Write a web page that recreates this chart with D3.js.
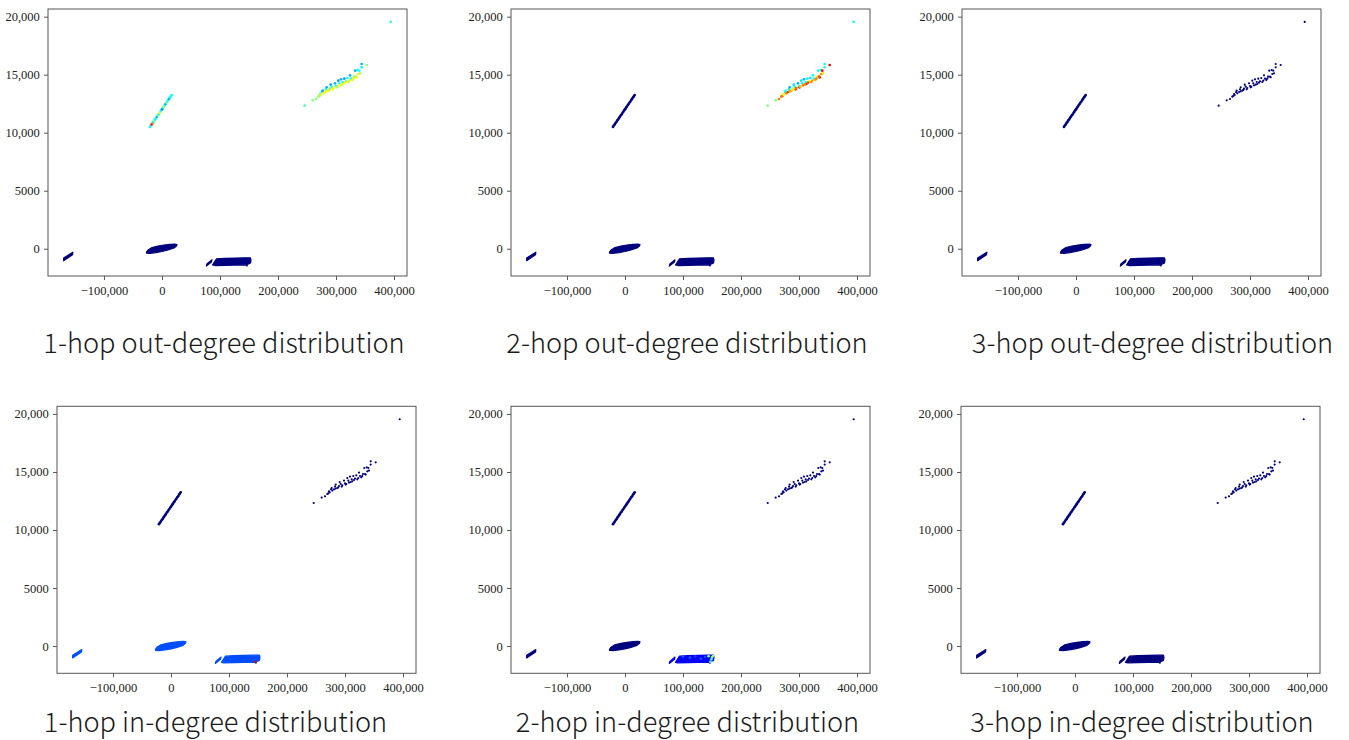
<!DOCTYPE html>
<html>
<head>
<meta charset="utf-8">
<script src="https://cdn.jsdelivr.net/npm/d3@7"></script>
<style>
  body { margin: 0; background: #fff; }
  svg { display: block; }
  .tick text { font-family: "Liberation Serif", "Times New Roman", serif; font-size: 12.5px; fill: #222; }
  .tick line { stroke: #555; }
  .title { font-family: "Noto Sans CJK SC", "Noto Sans", sans-serif; font-weight: 300; font-size: 27.2px; fill: #1a1a1a; }
</style>
</head>
<body>
<svg id="chart" width="1349" height="740"></svg>
<script>
// ---- labels and ticks ----
const panelTitles = [
  "1-hop out-degree distribution", "2-hop out-degree distribution", "3-hop out-degree distribution",
  "1-hop in-degree distribution", "2-hop in-degree distribution", "3-hop in-degree distribution"
];
const xTicks = [-100000, 0, 100000, 200000, 300000, 400000];
const xTickLabels = ["\u2212100,000", "0", "100,000", "200,000", "300,000", "400,000"];
const yTicks = [0, 5000, 10000, 15000, 20000];
const yTickLabels = ["0", "5000", "10,000", "15,000", "20,000"];

// ---- embedding: dense groups as outlines [x, y] ----
const groupA = [[-169600, -1030], [-154200, -520], [-153700, -300], [-169500, -800]];
const groupB = [[-26720, -371], [-20690, -397], [-10345, -328], [0, -241], [10345, -112], [20690, 60],
  [25000, 233], [25860, 362], [22410, 405], [13790, 379], [3450, 319], [-6900, 233],
  [-17240, 103], [-24140, -112], [-26720, -284]];
const groupCStub = [[76500, -1500], [85300, -1140], [86300, -950], [77300, -1320]];
const groupC = [[87060, -1405], [93960, -871], [108600, -828], [125860, -802], [143100, -784],
  [152570, -784], [153450, -974], [152570, -1233], [147400, -1345], [146550, -1491],
  [143950, -1388], [125860, -1405], [108600, -1431], [91380, -1448]];

// ---- embedding: diagonal strand (individual nodes) ----
const diagX = [-20700, -19200, -17700, -16200, -14700, -13200, -11700, -10200, -8700, -7200, -5700, -4200, -2700,
  -1200, 300, 1800, 3300, 4800, 6300, 7800, 9300, 10800, 12300, 13800, 15300, 16700];
const diagY = [10500, 10620, 10710, 10840, 10930, 11060, 11150, 11280, 11370, 11500, 11590, 11720, 11810,
  11940, 12030, 12160, 12250, 12380, 12470, 12600, 12690, 12820, 12910, 13040, 13130, 13250];

// ---- embedding: upper-right group (individual nodes) ----
const clusterX = [246030, 259810, 265500, 271200, 272400, 275860, 277060, 278100, 281030, 282750, 283960,
  286720, 289650, 290860, 292580, 294300, 298270, 300000, 301200, 303960, 305690, 306900, 308620, 311550,
  312580, 314300, 317240, 319480, 321200, 324130, 325850, 328090, 331030, 333270, 335680, 337410, 338440,
  340160, 341370, 344300, 344300, 352920, 394300,
  283960, 288440, 295340, 302230, 309820, 315510, 322920, 329820, 334480, 269480, 273610];
const clusterY = [12327, 12792, 12904, 13163, 13335, 13508, 13620, 13395, 13508, 13740, 13913,
  13620, 13792, 14137, 13964, 13740, 14257, 14025, 13913, 14482, 14257, 14085, 14602, 14370,
  14197, 14654, 14430, 14714, 14370, 14947, 14654, 14542, 14826, 15344, 14775, 15404, 15059,
  15344, 15119, 15921, 15637, 15835, 19542,
  13568, 13680, 13852, 13964, 14137, 14309, 14482, 14654, 14826, 13102, 13249];

// ---- degree values (0..1 on the jet scale) ----
const diagOut1 = [0.38, 0.4, 0.86, 0.75, 0.38, 0.5, 0.38, 0.4, 0.3, 0.5, 0.4, 0.6, 0.5, 0.38, 0.25, 0.38,
  0.55, 0.4, 0.3, 0.5, 0.4, 0.38, 0.3, 0.38, 0.4, 0.38];
const clusterOut1 = [0.45, 0.5, 0.5, 0.4, 0.5, 0.38, 0.28, 0.6, 0.62, 0.4, 0.3, 0.6, 0.5, 0.28, 0.4, 0.62,
  0.3, 0.38, 0.6, 0.28, 0.4, 0.6, 0.3, 0.38, 0.62, 0.28, 0.5, 0.38, 0.6, 0.3, 0.4, 0.6, 0.5, 0.3, 0.62,
  0.38, 0.6, 0.4, 0.55, 0.3, 0.38, 0.5, 0.42,
  0.62, 0.58, 0.62, 0.55, 0.6, 0.62, 0.58, 0.6, 0.65, 0.55, 0.6];
const clusterOut2 = [0.5, 0.5, 0.75, 0.88, 0.62, 0.38, 0.38, 0.75, 0.85, 0.38, 0.3, 0.7, 0.6, 0.35, 0.38,
  0.8, 0.3, 0.4, 0.88, 0.35, 0.38, 0.75, 0.3, 0.4, 0.85, 0.38, 0.62, 0.35, 0.75, 0.38, 0.4, 0.7, 0.6,
  0.38, 0.88, 0.38, 0.75, 0.88, 0.65, 0.38, 0.4, 0.9, 0.4,
  0.72, 0.65, 0.78, 0.7, 0.75, 0.8, 0.72, 0.75, 0.8, 0.75, 0.62];
// shade of groups A, B, C in each panel
const groupShade = [[0, 0, 0], [0, 0, 0], [0, 0, 0], [0.2, 0.2, 0.2], [0, 0, 0.12], [0, 0, 0]];
// nodes inside the dense groups that stand out: [x, y, value]
const accentIn1 = [[146000, -1360, 0.9]];
const accentIn2 = [[100000, -900, 0.22], [112000, -1000, 0.22], [121000, -880, 0.2], [131000, -1100, 0.22],
  [138000, -950, 0.2], [144100, -870, 0.5], [150000, -980, 0.5], [147100, -1360, 0.48],
  [151700, -860, 0.52], [149000, -1150, 0.45]];

const panelData = [
  { diag: diagOut1, cluster: clusterOut1, accents: [] },
  { diag: null, cluster: clusterOut2, accents: [] },
  { diag: null, cluster: null, accents: [] },
  { diag: null, cluster: null, accents: accentIn1 },
  { diag: null, cluster: null, accents: accentIn2 },
  { diag: null, cluster: null, accents: [] }
];

// ---- layout ----
const W = 359, H = 267;
const origins = [[48, 9], [511, 9], [962, 9], [57, 406.3], [511, 406.3], [961, 406.3]];
const titlePos = [[224, 352.5], [687, 352.5], [1152.5, 352.5], [215.5, 732], [687.5, 732], [1142, 732]];

const jet = d3.scaleLinear()
  .domain([0, 0.125, 0.375, 0.625, 0.875, 1])
  .range(["#00007f", "#0000ff", "#00ffff", "#ffff00", "#ff0000", "#7f0000"])
  .clamp(true);

const x = d3.scaleLinear().domain([-196500, 422400]).range([0, W]);
const y = d3.scaleLinear().domain([-2350, 20660]).range([H, 0]);

const svg = d3.select("#chart");

panelData.forEach((pd, i) => {
  const g = svg.append("g").attr("transform", `translate(${origins[i][0]},${origins[i][1]})`);

  // dense groups
  const line = d3.line().x(d => x(d[0])).y(d => y(d[1])).curve(d3.curveLinearClosed);
  const shades = groupShade[i];
  [[groupA, shades[0]], [groupB, shades[1]], [groupCStub, shades[2]], [groupC, shades[2]]].forEach(([poly, v]) => {
    g.append("path").attr("d", line(poly))
      .attr("fill", jet(v)).attr("stroke", jet(v)).attr("stroke-width", 1.2)
      .attr("stroke-linejoin", "round");
  });

  // accents inside dense groups
  g.selectAll("circle.acc").data(pd.accents).join("circle").attr("class", "acc")
    .attr("cx", d => x(d[0])).attr("cy", d => y(d[1])).attr("r", 1.3)
    .attr("fill", d => jet(d[2]));

  // diagonal strand
  g.selectAll("circle.diag").data(diagX).join("circle").attr("class", "diag")
    .attr("cx", d => x(d)).attr("cy", (d, k) => y(diagY[k])).attr("r", 1.35)
    .attr("fill", (d, k) => jet(pd.diag ? pd.diag[k] : 0));

  // upper-right group
  g.selectAll("circle.cl").data(clusterX).join("circle").attr("class", "cl")
    .attr("cx", d => x(d)).attr("cy", (d, k) => y(clusterY[k]))
    .attr("r", pd.cluster ? 1.35 : 1.1)
    .attr("fill", (d, k) => jet(pd.cluster ? pd.cluster[k] : 0));

  // axes
  const xa = g.append("g").attr("transform", `translate(0,${H})`)
    .call(d3.axisBottom(x).tickValues(xTicks).tickSize(4).tickSizeOuter(0)
      .tickFormat((d, k) => xTickLabels[k]));
  const ya = g.append("g")
    .call(d3.axisLeft(y).tickValues(yTicks).tickSize(4).tickSizeOuter(0)
      .tickFormat((d, k) => yTickLabels[k]));
  xa.select(".domain").remove();
  ya.select(".domain").remove();
  xa.selectAll(".tick text").attr("dy", "0.95em");
  ya.selectAll(".tick text").attr("dx", "-0.1em");

  // frame
  g.append("rect").attr("width", W).attr("height", H)
    .attr("fill", "none").attr("stroke", "#555").attr("stroke-width", 1);

  svg.append("text").attr("class", "title")
    .attr("x", titlePos[i][0]).attr("y", titlePos[i][1])
    .attr("text-anchor", "middle").text(panelTitles[i]);
});
</script>
</body>
</html>
